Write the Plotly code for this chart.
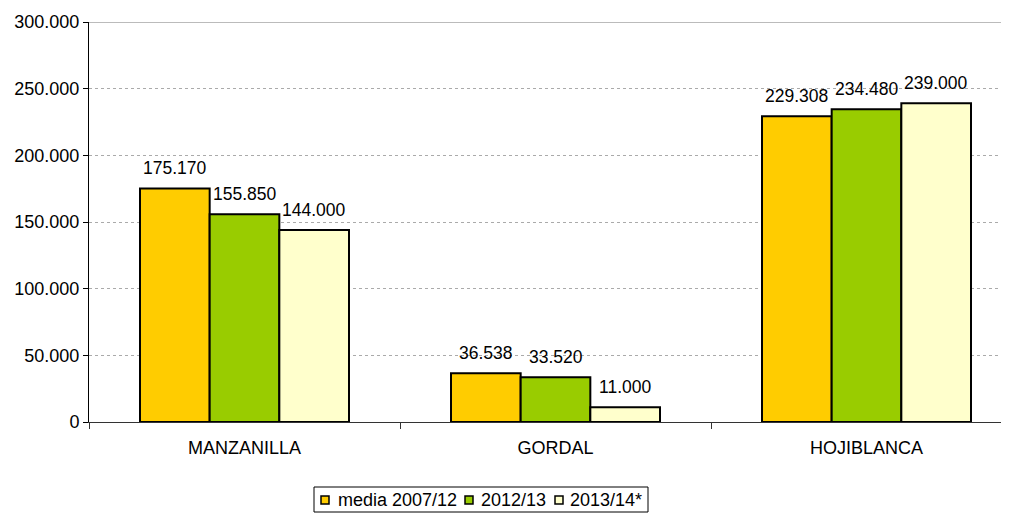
import plotly.graph_objects as go

categories = ["MANZANILLA", "GORDAL", "HOJIBLANCA"]
series_names = ["media 2007/12", "2012/13", "2013/14*"]
media_0712 = [175170, 36538, 229308]
v_1213 = [155850, 33520, 234480]
v_1314 = [144000, 11000, 239000]
colors = ["#FFCC00", "#99CC00", "#FFFFCC"]
tick_vals = [0, 50000, 100000, 150000, 200000, 250000, 300000]
tick_text = ["0", "50.000", "100.000", "150.000", "200.000", "250.000", "300.000"]

FONT = "Liberation Sans, Arial, sans-serif"
series = [media_0712, v_1213, v_1314]

def fmt(v):
    return f"{v:,}".replace(",", ".")

# page body has an 8px margin in the rendered html; size the figure to fit
W, H = 1001, 505
L, T, B = 81, 14, 91
plot_w = W - L            # 920 px
plot_h = H - T - B        # 400 px
cat_px = 311              # pixel width of one category slot
bargap = 0.328
bar_px = cat_px * (1 - bargap) / 3

fig = go.Figure()
for name, vals, col in zip(series_names, series, colors):
    fig.add_trace(go.Bar(
        x=categories, y=vals, name=name,
        marker=dict(color=col, line=dict(color="black", width=2)),
        showlegend=False,
    ))

# data labels above bars
for i, vals in enumerate(series):
    for cat, v in zip(categories, vals):
        fig.add_annotation(
            x=cat, y=v, xref="x", yref="y", text=fmt(v), showarrow=False,
            xanchor="center", yanchor="bottom", xshift=(i - 1) * bar_px, yshift=8,
            font=dict(family=FONT, size=17.5, color="black"),
        )

fig.update_layout(
    width=W, height=H,
    barmode="group", bargap=bargap, bargroupgap=0,
    plot_bgcolor="white", paper_bgcolor="white",
    margin=dict(l=L, r=0, t=T, b=B, autoexpand=False),
    font=dict(family=FONT, size=18, color="black"),
    showlegend=False,
    xaxis=dict(range=[-0.5, -0.5 + plot_w / cat_px], showline=True, linecolor="#333333",
               linewidth=1, ticks="outside", tickson="boundaries", ticklen=6,
               tickcolor="#333333", showgrid=False, tickfont=dict(size=18),
               ticklabelstandoff=9),
    yaxis=dict(range=[0, 300000], tickvals=tick_vals, ticktext=tick_text,
               showline=True, linecolor="black", linewidth=1,
               ticks="outside", ticklen=5, tickcolor="black",
               gridcolor="#AAAAAA", griddash="dot", gridwidth=1,
               zeroline=False, tickfont=dict(size=18)),
)
fig.add_shape(type="line", xref="paper", yref="y", x0=0, x1=1, y0=300000, y1=300000,
              line=dict(color="#BBBBBB", width=2))

# custom compact legend (screen coords converted to paper coords)
def px_x(sx):
    return (sx - 8 - L) / plot_w

def px_y(sy):
    return (T + plot_h - (sy - 8)) / plot_h

fig.add_shape(type="rect", xref="paper", yref="paper",
              x0=px_x(314), x1=px_x(648), y0=px_y(487), y1=px_y(512),
              line=dict(color="black", width=1), fillcolor="white", layer="above")
sq_left = [321, 465, 555]
txt_left = [336, 479, 568]
for name, col, sx, tx in zip(series_names, colors, sq_left, txt_left):
    fig.add_shape(type="rect", xref="paper", yref="paper",
                  x0=px_x(sx), x1=px_x(sx + 8), y0=px_y(496), y1=px_y(504),
                  line=dict(color="black", width=1.5), fillcolor=col, layer="above")
    fig.add_annotation(x=px_x(tx), y=px_y(500), xref="paper", yref="paper",
                       text=name, showarrow=False, xanchor="left", yanchor="middle",
                       font=dict(family=FONT, size=18, color="black"))

fig.write_html("out.html")
